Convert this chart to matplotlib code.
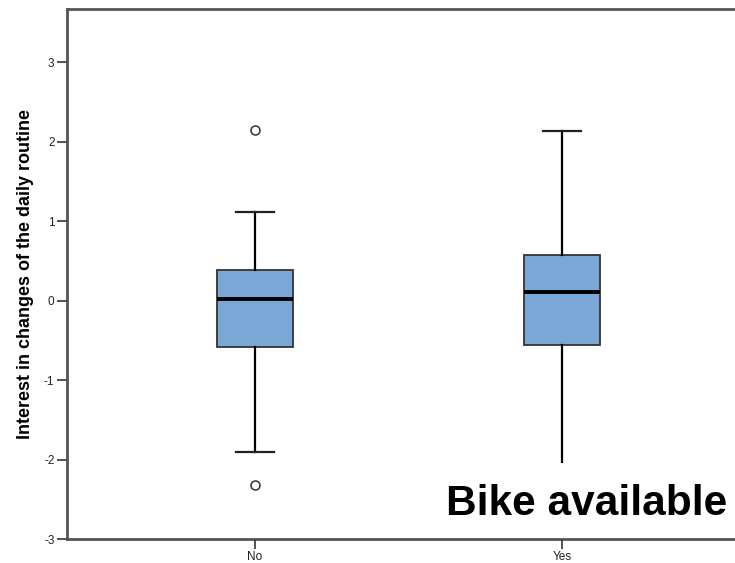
import matplotlib.pyplot as plt

# box statistics
groups = ['No', 'Yes']
positions = [1, 2]
q1 = [-0.585, -0.560]
med = [0.015, 0.107]
q3 = [0.384, 0.572]
whislo = [-1.906, -2.40]
whishi = [1.113, 2.132]
fliers = [[2.151, -2.327], []]

plt.rcParams['font.family'] = ['Liberation Sans', 'DejaVu Sans']
plt.rcParams['axes.unicode_minus'] = False

stats = []
for i in range(len(groups)):
    stats.append(dict(label=groups[i], q1=q1[i], med=med[i], q3=q3[i],
                      whislo=whislo[i], whishi=whishi[i], fliers=fliers[i]))

fig = plt.figure(figsize=(7.35, 5.63), dpi=100)
ax = fig.add_axes([67 / 735, 24 / 563, (750 - 67) / 735, 530 / 563])
ax.set_axisbelow(False)

ax.bxp(stats, positions=positions, widths=0.245, patch_artist=True,
       boxprops=dict(facecolor='#79a8d6', edgecolor='#333333', linewidth=1.3),
       medianprops=dict(color='black', linewidth=2.8),
       whiskerprops=dict(color='black', linewidth=1.6),
       capprops=dict(color='#222222', linewidth=1.6),
       flierprops=dict(marker='o', markersize=6.5, markerfacecolor='white',
                       markeredgecolor='#333333', markeredgewidth=1.1))

ax.set_xlim(0.388, 2.612)
ax.set_ylim(-3, 3.667)
ax.set_yticks([-3, -2, -1, 0, 1, 2, 3])
ax.set_xticks(positions)
ax.set_xticklabels(groups)
ax.tick_params(axis='both', labelsize=8.5, colors='#444444', labelcolor='#222222',
               length=7, width=1.3, pad=2)

for s in ['left', 'bottom', 'top']:
    ax.spines[s].set_color('#555555')
    ax.spines[s].set_linewidth(2)
ax.spines['right'].set_visible(False)

ax.set_ylabel('Interest in changes of the daily routine', fontsize=13,
              fontweight='bold')
ax.yaxis.set_label_coords(-0.049, 0.5)

# pasted caption, its white box hides the lower end of the right whisker
ax.text(727 / 735, 48 / 563, 'Bike available', transform=fig.transFigure,
        fontsize=30.5, fontweight='bold', ha='right', va='baseline',
        zorder=2.2, clip_on=False,
        bbox=dict(facecolor='white', edgecolor='none', pad=15))

fig.savefig('out.png', dpi=100)
